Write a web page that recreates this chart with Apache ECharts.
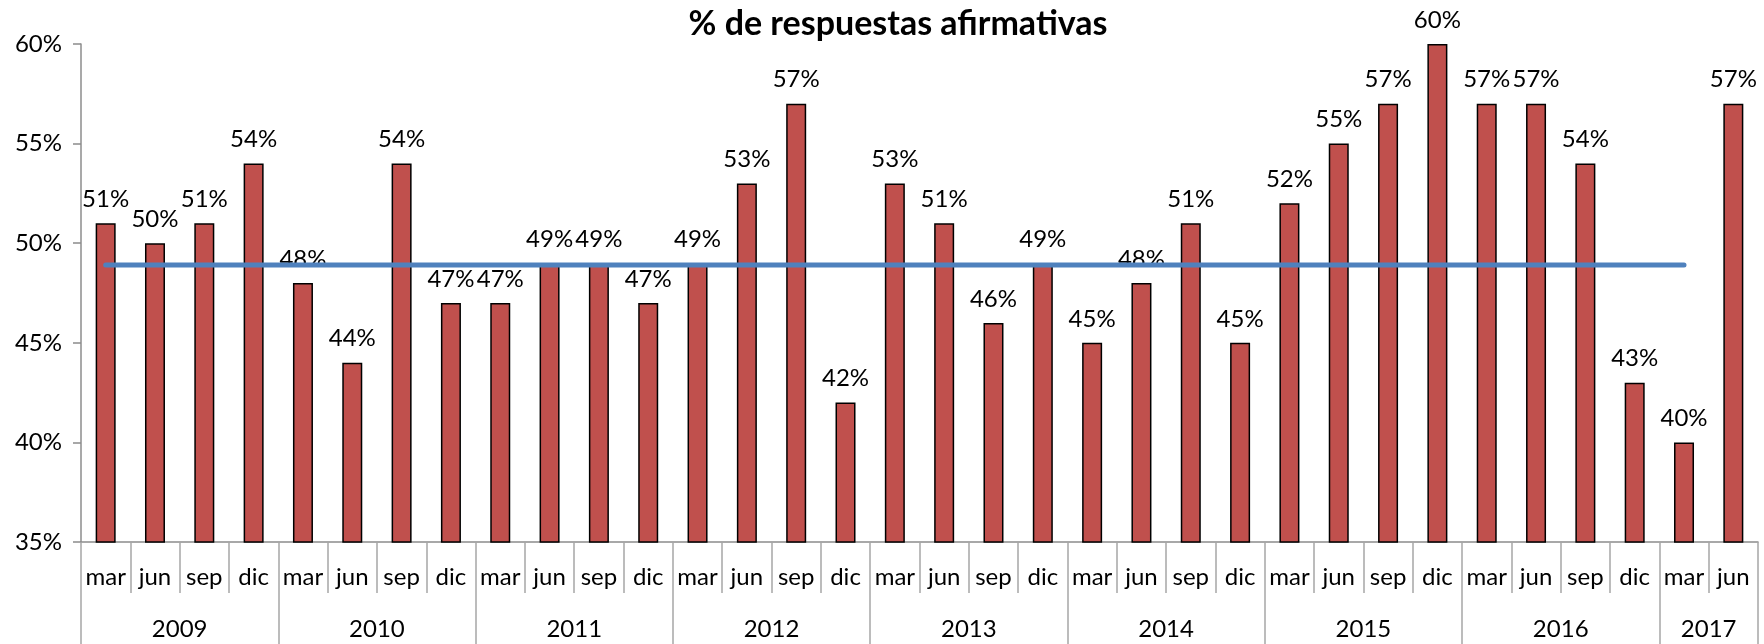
<!DOCTYPE html>
<html>
<head>
<meta charset="utf-8">
<script src="https://cdn.jsdelivr.net/npm/echarts@6/dist/echarts.min.js"></script>
<style>
  html, body { margin: 0; padding: 0; background: #fff; }
  #main { width: 1764px; height: 644px; }
</style>
</head>
<body>
<div id="main"></div>
<script>
// datos
var years = ['2009', '2010', '2011', '2012', '2013', '2014', '2015', '2016', '2017'];
var months = ['mar', 'jun', 'sep', 'dic'];
var values = [
  51, 50, 51, 54,
  48, 44, 54, 47,
  47, 49, 49, 47,
  49, 53, 57, 42,
  53, 51, 46, 49,
  45, 48, 51, 45,
  52, 55, 57, 60,
  57, 57, 54, 43,
  40, 57
];
// linea de referencia (hasta 2017 mar)
var avgLine = [
  48.9, 48.9, 48.9, 48.9, 48.9, 48.9, 48.9, 48.9, 48.9, 48.9, 48.9,
  48.9, 48.9, 48.9, 48.9, 48.9, 48.9, 48.9, 48.9, 48.9, 48.9, 48.9,
  48.9, 48.9, 48.9, 48.9, 48.9, 48.9, 48.9, 48.9, 48.9, 48.9, 48.9
];
var yTicks = [35, 40, 45, 50, 55, 60];

// categorias mes por barra, limites y centros de cada año
var monthCats = [];
var yearBounds = [0];
var yearCenters = [];
var yearOf = {};
for (var i = 0; i < values.length; i++) {
  monthCats.push(months[i % 4]);
}
for (var y = 0; y < years.length; y++) {
  var start = y * 4;
  var end = Math.min(start + 4, values.length);
  yearBounds.push(end);
  yearCenters.push((start + end) / 2);
  yearOf[(start + end) / 2] = years[y];
}

var font = 'Lato, "Open Sans", sans-serif';
var axisGray = '#8c8c8c';

var myChart = echarts.init(document.getElementById('main'));
var option = {
  animation: false,
  title: {
    text: '% de respuestas afirmativas',
    left: 893,
    textAlign: 'center',
    top: 2,
    textStyle: { fontFamily: font, fontSize: 34, fontWeight: 'bold', color: '#000' }
  },
  grid: { left: 81, right: 6, top: 44, bottom: 102, containLabel: false },
  xAxis: [
    {
      type: 'category',
      data: monthCats,
      position: 'bottom',
      axisLine: { lineStyle: { color: axisGray, width: 1.5 } },
      axisTick: { show: true, interval: 0, length: 51, lineStyle: { color: '#a6a6a6', width: 1.5 } },
      axisLabel: { interval: 0, margin: 23, fontFamily: font, fontSize: 24, color: '#000' },
      splitLine: { show: false }
    },
    {
      type: 'value',
      min: 0,
      max: values.length,
      position: 'bottom',
      axisLine: { show: false },
      splitLine: { show: false },
      axisTick: { show: true, length: 102, customValues: yearBounds, lineStyle: { color: '#a6a6a6', width: 1.5 } },
      axisLabel: {
        customValues: yearCenters,
        margin: 75,
        fontFamily: font, fontSize: 24, color: '#000',
        formatter: function (v) { return yearOf[v] || ''; }
      }
    }
  ],
  yAxis: {
    type: 'value',
    min: yTicks[0],
    max: yTicks[yTicks.length - 1],
    interval: 5,
    axisLine: { show: true, lineStyle: { color: axisGray, width: 1.5 } },
    axisTick: { show: true, length: 8, lineStyle: { color: axisGray, width: 1.5 } },
    axisLabel: { formatter: '{value}%', margin: 19, fontFamily: font, fontSize: 24, color: '#000' },
    splitLine: { show: false }
  },
  series: [
    {
      type: 'bar',
      data: values,
      xAxisIndex: 0,
      barWidth: 20,
      itemStyle: { color: '#C0504D', borderColor: '#000', borderWidth: 1.5 },
      label: {
        show: true,
        position: 'top',
        distance: 12,
        formatter: '{c}%',
        fontFamily: font,
        fontSize: 24,
        color: '#000'
      },
      z: 2
    },
    {
      type: 'line',
      data: avgLine,
      xAxisIndex: 0,
      symbol: 'none',
      lineStyle: { color: '#4F81BD', width: 5, cap: 'round' },
      z: 3
    }
  ]
};
myChart.setOption(option);
</script>
</body>
</html>
